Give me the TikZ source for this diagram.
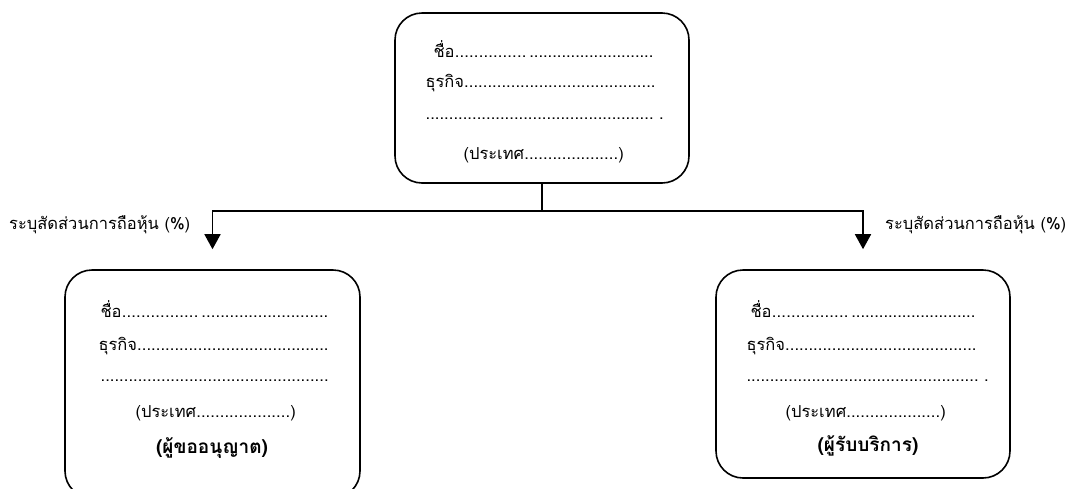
\documentclass[tikz,border=0pt]{standalone}
\usepackage{fontspec}
\setmainfont[Script=Thai]{Loma}
\usepackage{tikz}
\usetikzlibrary{
	arrows.meta,
	calc,
	positioning,
}
\newcommand\dotleaders{\xleaders\hbox{.}\hfill}
\newcommand\fillbox[2]{\hbox to #1{#2\dotleaders}}
\tikzset{card/.style={
	draw,
	rounded corners=27pt,
	line width=1.6pt,
	black,
}}

\begin{document}
\begin{tikzpicture}[
x=1pt, y=-1pt,
font=\fontsize{16.5}{20}\selectfont,
every node/.style={inner sep=0pt},
]
\useasboundingbox (0,0) rectangle (1070,488);

\tikzset{
	link/.style={line width=1.6pt, -{Triangle[width=16pt,length=15pt]}, shorten >=20pt},
	line/.style={anchor=west},
	title/.style={anchor=center, font=\fontsize{19}{22}\selectfont\bfseries},
}

% boxes
\node(top)[card, minimum width=294pt, minimum height=170pt]		at(542,98)		{};
\node(owner)[card, minimum width=295pt, minimum height=228pt]	at(212.5,384)	{};
\node(client)[card, minimum width=294pt, minimum height=208pt]	at(863,374)		{};

\coordinate(split) at(542,211);

\begin{scope}[every node/.style={line}]
\node(t1) at(430,49)	{\fillbox{93pt}{ชื่อ}\,\fillbox{124pt}{}};
\node(t2) at(422,83)	{\fillbox{230pt}{ธุรกิจ}};
\node(t3) at(422,119)	{\fillbox{228pt}{} .};
\node(t4) at(460,155)	{(ประเทศ\fillbox{94pt}{})};

\node(o1) at(97,309)	{\fillbox{98pt}{ชื่อ}\,\fillbox{127pt}{}};
\node(o2) at(95,346)	{\fillbox{230pt}{ธุรกิจ}};
\node(o3) at(97,381)	{\fillbox{228pt}{}};
\node(o4) at(132,413)	{(ประเทศ\fillbox{94pt}{})};

\node(c1) at(747,309)	{\fillbox{98pt}{ชื่อ}\,\fillbox{124pt}{}};
\node(c2) at(743,346)	{\fillbox{230pt}{ธุรกิจ}};
\node(c3) at(743,381)	{\fillbox{232pt}{} .};
\node(c4) at(782,413)	{(ประเทศ\fillbox{94pt}{})};
\end{scope}

\node(o5)[title] at(212,448)	{(ผู้ขออนุญาต)};
\node(c5)[title] at(868,446)	{(ผู้รับบริการ)};

% share labels
\node(lshare)[anchor=west] at(9,225)	{ระบุสัดส่วนการถือหุ้น (\%)};
\node(rshare)[anchor=west] at(885,225)	{ระบุสัดส่วนการถือหุ้น (\%)};

\draw[link] (top.south) -- (split) -| (owner.north);
\draw[link] (top.south) -- (split) -| (client.north);

\end{tikzpicture}
\end{document}
